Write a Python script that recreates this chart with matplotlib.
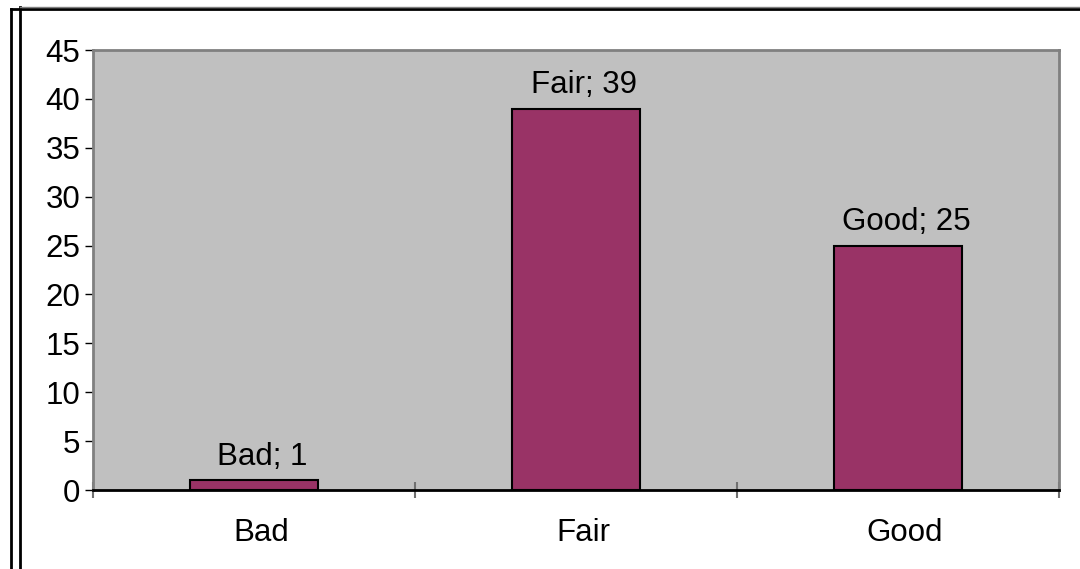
import matplotlib
import matplotlib.pyplot as plt
from matplotlib.lines import Line2D
from matplotlib.transforms import ScaledTranslation

matplotlib.use("Agg")

categories = ["Bad", "Fair", "Good"]
counts = [1, 39, 25]
y_ticks = [0, 5, 10, 15, 20, 25, 30, 35, 40, 45]

plt.rcParams["font.family"] = ["Liberation Sans", "DejaVu Sans"]
FS = 22.5

W, H = 1080, 569
fig = plt.figure(figsize=(W / 100, H / 100), dpi=100)

# plot area in pixels: left 93, right 1059, top 50, bottom 490
ax = fig.add_axes([93 / W, 1 - 490 / H, (1059 - 93) / W, (490 - 50) / H])
ax.set_facecolor("#C0C0C0")

x = list(range(len(categories)))
ax.bar(x, counts, width=0.4, color="#993366", edgecolor="black", linewidth=1.5, zorder=3)

# labels sit a few pixels right of the bar centre in the original
for xi, cat, val in zip(x, categories, counts):
    ax.annotate(f"{cat}; {val}", (xi, val), xytext=(6, 11), textcoords="offset points",
                ha="center", va="baseline", fontsize=FS, zorder=4)

ax.set_xlim(-0.5, len(categories) - 0.5)
ax.set_ylim(0, 45)
ax.set_yticks(y_ticks)
ax.tick_params(axis="y", labelsize=FS, length=6, width=1, color="black", pad=3)

# category boundaries carry the x ticks
ax.set_xticks([i - 0.5 for i in range(len(categories) + 1)])
ax.set_xticklabels([])
ax.set_xticks(x, minor=True)
ax.set_xticklabels(categories, minor=True)
ax.tick_params(axis="x", which="major", direction="inout", length=12, width=1.5, color="#707070")
ax.tick_params(axis="x", which="minor", length=0, labelsize=FS, pad=20)
shift = ScaledTranslation(5 / 72, 0, fig.dpi_scale_trans)
for lbl in ax.get_xticklabels(minor=True):
    lbl.set_transform(lbl.get_transform() + shift)

for side in ["top", "right", "left"]:
    ax.spines[side].set_color("#808080")
    ax.spines[side].set_linewidth(2)
ax.spines["bottom"].set_color("black")
ax.spines["bottom"].set_linewidth(2)

# outer chart frame
def px_line(xs, ys, **kw):
    fig.add_artist(Line2D([v / W for v in xs], [1 - v / H for v in ys], transform=fig.transFigure, **kw))

px_line([11, 11], [9, H], color="black", linewidth=2)
px_line([20, 20], [7, H], color="black", linewidth=2)
px_line([11, W], [9, 9], color="black", linewidth=2)
px_line([20, W], [7, 7], color="#808080", linewidth=1)

fig.savefig("out.png", dpi=100)
